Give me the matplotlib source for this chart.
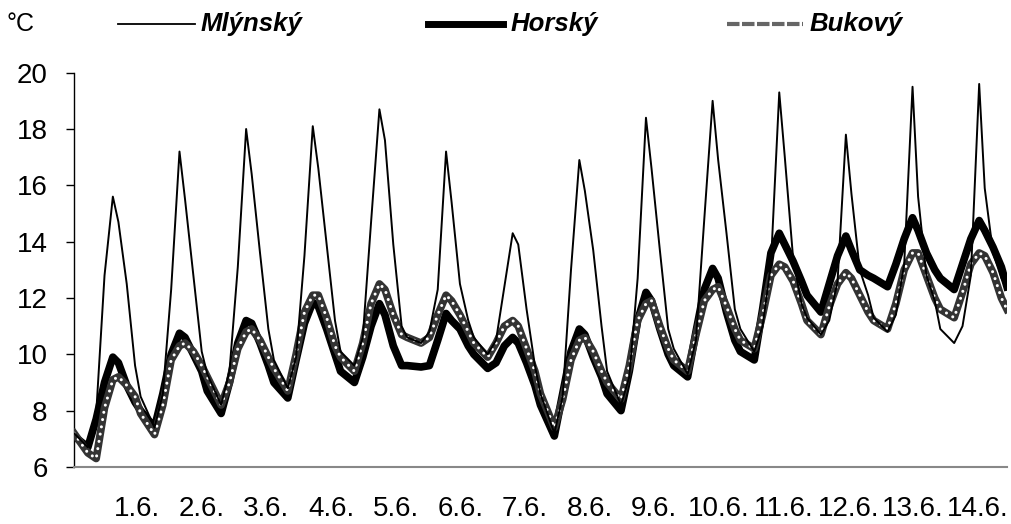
import numpy as np
import matplotlib
matplotlib.use("Agg")
import matplotlib.pyplot as plt
from matplotlib.lines import Line2D

plt.rcParams['font.family'] = ['Liberation Sans', 'DejaVu Sans']

# hours of the day at which values were read, one row per day (1.6. - 14.6.)
hours = [0, 5, 8, 11, 14, 16, 19, 22]
day_labels = ['1.6.', '2.6.', '3.6.', '4.6.', '5.6.', '6.6.', '7.6.',
              '8.6.', '9.6.', '10.6.', '11.6.', '12.6.', '13.6.', '14.6.']
series_names = ['Mlýnský', 'Horský', 'Bukový']

mlynsky = [
    [7.2, 6.7, 7.9, 12.8, 15.6, 14.7, 12.5, 9.6],
    [8.5, 7.4, 8.6, 12.3, 17.2, 15.5, 12.8, 10.1],
    [9.3, 8.2, 9.4, 13.1, 18.0, 16.4, 13.6, 10.9],
    [9.8, 8.8, 9.9, 13.5, 18.1, 16.6, 13.9, 11.2],
    [10.1, 9.6, 10.6, 14.7, 18.7, 17.6, 13.9, 11.0],
    [10.6, 10.4, 10.8, 12.3, 17.2, 15.4, 12.5, 11.2],
    [10.6, 10.0, 10.5, 12.4, 14.3, 13.9, 11.6, 9.6],
    [8.6, 7.2, 8.5, 13.0, 16.9, 15.8, 13.7, 11.0],
    [9.4, 8.2, 9.2, 12.7, 18.4, 16.6, 13.7, 10.9],
    [10.2, 9.3, 10.5, 14.8, 19.0, 16.9, 14.3, 11.6],
    [10.9, 10.1, 11.0, 13.2, 19.3, 17.0, 13.4, 11.8],
    [11.3, 10.7, 11.2, 12.6, 17.8, 15.7, 13.0, 12.1],
    [11.3, 10.8, 11.4, 13.2, 19.5, 15.6, 12.8, 11.9],
    [10.9, 10.4, 11.0, 12.8, 19.6, 15.9, 13.6, 12.7],
]
mlynsky_end = 12.3

horsky = [
    [7.1, 6.7, 7.7, 9.0, 9.9, 9.7, 8.9, 8.3],
    [8.0, 7.4, 8.6, 10.0, 10.75, 10.6, 10.0, 9.4],
    [8.7, 7.9, 9.0, 10.4, 11.2, 11.1, 10.4, 9.6],
    [9.0, 8.45, 9.8, 11.1, 11.85, 11.7, 10.9, 10.0],
    [9.4, 9.0, 9.9, 11.0, 11.8, 11.4, 10.3, 9.6],
    [9.6, 9.55, 9.6, 10.5, 11.45, 11.2, 10.9, 10.3],
    [10.0, 9.5, 9.7, 10.3, 10.6, 10.4, 9.7, 8.9],
    [8.2, 7.1, 8.6, 10.1, 10.9, 10.7, 9.9, 9.2],
    [8.6, 8.0, 9.4, 11.2, 12.2, 11.9, 10.9, 10.0],
    [9.6, 9.2, 10.8, 12.3, 13.05, 12.7, 11.5, 10.5],
    [10.1, 9.8, 11.6, 13.6, 14.3, 13.9, 13.3, 12.6],
    [12.1, 11.5, 12.5, 13.5, 14.2, 13.7, 13.0, 12.8],
    [12.7, 12.4, 13.2, 14.1, 14.85, 14.4, 13.6, 13.0],
    [12.7, 12.3, 13.2, 14.1, 14.75, 14.4, 13.8, 13.1],
]
horsky_end = 12.4

bukovy = [
    [7.2, 6.5, 6.3, 8.1, 9.1, 9.2, 8.9, 8.5],
    [7.9, 7.15, 8.2, 9.8, 10.3, 10.4, 10.1, 9.6],
    [9.2, 8.2, 9.0, 10.2, 10.8, 10.9, 10.5, 9.9],
    [9.5, 8.7, 10.0, 11.5, 12.1, 12.1, 11.3, 10.3],
    [9.9, 9.4, 10.4, 11.8, 12.5, 12.3, 11.4, 10.7],
    [10.6, 10.4, 10.6, 11.4, 12.1, 11.9, 11.4, 10.8],
    [10.4, 9.9, 10.4, 11.0, 11.2, 11.0, 10.2, 9.4],
    [8.6, 7.4, 8.4, 9.8, 10.5, 10.6, 10.1, 9.4],
    [9.0, 8.4, 9.6, 11.2, 11.8, 11.9, 11.0, 10.2],
    [9.8, 9.4, 10.7, 11.9, 12.3, 12.4, 11.7, 10.9],
    [10.5, 10.2, 11.4, 12.8, 13.2, 13.1, 12.6, 11.8],
    [11.2, 10.7, 11.7, 12.5, 12.9, 12.7, 12.1, 11.5],
    [11.2, 10.9, 11.8, 13.0, 13.6, 13.6, 12.8, 12.0],
    [11.6, 11.3, 12.2, 13.2, 13.6, 13.5, 12.9, 12.0],
]
bukovy_end = 11.6

n_days = len(day_labels)
t = (np.arange(n_days)[:, None] * 24 + np.array(hours)[None, :]).ravel()
t = np.append(t, n_days * 24)


def series(rows, end):
    return np.append(np.array(rows).ravel(), end)


fig = plt.figure(figsize=(10.12, 5.24), dpi=100)
ax = fig.add_axes([0.0731, 0.1088, 0.9219, 0.7525])

ax.plot(t, series(horsky, horsky_end), color='black', lw=5.5,
        solid_joinstyle='round', zorder=2)
ax.plot(t, series(bukovy, bukovy_end), color='#333333', lw=5.5,
        solid_joinstyle='round', zorder=3)
ax.plot(t, series(bukovy, bukovy_end), color='white', lw=2.2,
        linestyle=(0, (0.01, 2.4)), dash_capstyle='round', zorder=4)
ax.plot(t, series(mlynsky, mlynsky_end), color='black', lw=1.4, zorder=5)

ax.set_xlim(0, n_days * 24)
ax.set_ylim(6, 20)
ax.set_yticks(np.arange(6, 21, 2))
ax.set_xticks(np.linspace(22.7, 325.4, n_days))
ax.set_xticklabels(day_labels)

ax.spines['top'].set_visible(False)
ax.spines['right'].set_visible(False)
ax.spines['bottom'].set_color('#888888')
ax.spines['bottom'].set_linewidth(1.5)
ax.spines['left'].set_linewidth(1.0)
ax.tick_params(axis='y', length=6, width=1, pad=13, labelsize=20)
ax.tick_params(axis='x', length=0, pad=21, labelsize=20)

fig.text(0.006, 0.955, '°C', fontsize=18, va='center', ha='left')

# legend drawn by hand so each entry sits where it does in the original
leg_y = 0.954
leg_items = [
    (0.117, 0.193, 0.198, dict(color='black', lw=1.3)),
    (0.423, 0.497, 0.504, dict(color='black', lw=5)),
    (0.718, 0.793, 0.800, dict(color='#666666', lw=3, linestyle=(0, (3, 0.6)))),
]
for name, (x0, x1, xt, style) in zip(series_names, leg_items):
    fig.add_artist(Line2D([x0, x1], [leg_y, leg_y], transform=fig.transFigure, **style))
    fig.text(xt, leg_y, name, fontsize=18.5, fontweight='bold', fontstyle='italic',
             va='center', ha='left')

fig.savefig('out.png', dpi=100)
